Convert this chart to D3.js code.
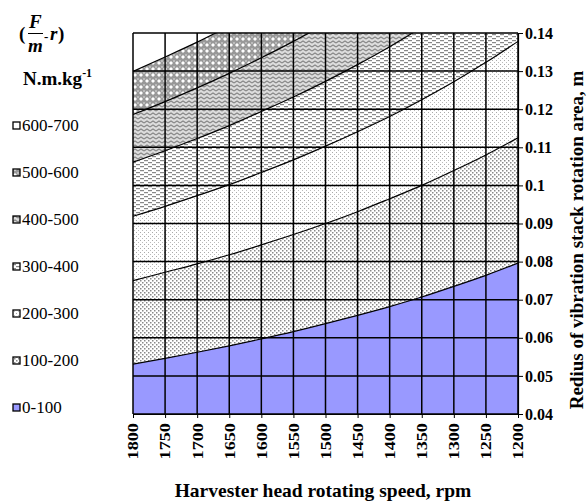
<!DOCTYPE html>
<html lang="en">
<head>
<meta charset="UTF-8">
<title>Contour chart</title>
<script src="https://cdnjs.cloudflare.com/ajax/libs/d3/7.8.5/d3.min.js"></script>
<style>
  body { margin: 0; background: #fff; }
  text { font-family: "Liberation Serif", "Times New Roman", serif; }
</style>
</head>
<body>
<svg id="chart"></svg>
<script>
// speeds at each grid column, rpm
var speeds = [1800, 1750, 1700, 1650, 1600, 1550, 1500, 1450, 1400, 1350, 1300, 1250, 1200]
var rTicks = [0.04, 0.05, 0.06, 0.07, 0.08, 0.09, 0.1, 0.11, 0.12, 0.13, 0.14]

// boundary radius (m) read at every speed column, one list per contour level
var lvl100 = [0.0531, 0.0546, 0.0562, 0.0579, 0.0597, 0.0616, 0.0637, 0.0659, 0.0682, 0.0707, 0.0735, 0.0764, 0.0796]
var lvl200 = [0.0750, 0.0772, 0.0794, 0.0818, 0.0844, 0.0871, 0.0900, 0.0931, 0.0965, 0.1000, 0.1039, 0.1080, 0.1125]
var lvl300 = [0.0919, 0.0945, 0.0973, 0.1002, 0.1034, 0.1067, 0.1103, 0.1141, 0.1181, 0.1225, 0.1272, 0.1323, 0.1378]
var lvl400 = [0.1061, 0.1091, 0.1123, 0.1157, 0.1194, 0.1232, 0.1273, 0.1317, 0.1364, 0.1415, 0.147, 0.153, 0.159]
var lvl500 = [0.1186, 0.1220, 0.1256, 0.1294, 0.1335, 0.1378, 0.1424, 0.147, 0.153, 0.158, 0.164, 0.171, 0.178]
var lvl600 = [0.1299, 0.1337, 0.1376, 0.1418, 0.146, 0.151, 0.156, 0.161, 0.167, 0.173, 0.18, 0.187, 0.195]

var legendLabels = ["600-700", "500-600", "400-500", "300-400", "200-300", "100-200", "0-100"]

var W = 588, H = 501
var svg = d3.select("#chart").attr("width", W).attr("height", H)

var x = d3.scaleLinear().domain([1800, 1200]).range([133, 518])
var y = d3.scaleLinear().domain([0.04, 0.14]).range([414, 33])

// fill patterns
var defs = svg.append("defs")
function pat(id, w, h, bg) {
  var p = defs.append("pattern").attr("id", id).attr("patternUnits", "userSpaceOnUse")
    .attr("width", w).attr("height", h)
  p.append("rect").attr("width", w).attr("height", h).attr("fill", bg)
  return p
}
var p1 = pat("p100", 4, 4, "#fff")
p1.append("rect").attr("x", 0).attr("y", 0).attr("width", 1.5).attr("height", 1.5).attr("fill", "#888")
p1.append("rect").attr("x", 2).attr("y", 2).attr("width", 1.5).attr("height", 1.5).attr("fill", "#888")
var p2 = pat("p200", 4, 4, "#fff")
p2.append("rect").attr("x", 0).attr("y", 0).attr("width", 1).attr("height", 1).attr("fill", "#aaa")
p2.append("rect").attr("x", 2).attr("y", 2).attr("width", 1).attr("height", 1).attr("fill", "#bbb")
var p3 = pat("p300", 8, 4, "#fff")
p3.append("rect").attr("x", 0).attr("y", 0).attr("width", 4).attr("height", 1.2).attr("fill", "#888")
p3.append("rect").attr("x", 4).attr("y", 2).attr("width", 4).attr("height", 1.2).attr("fill", "#888")
var p4 = pat("p400", 6, 4, "#ddd")
p4.append("path").attr("d", "M0,3L3,1L6,3").attr("fill", "none").attr("stroke", "#888").attr("stroke-width", 1.2)
var p5 = pat("p500", 6, 6, "#999")
p5.append("path").attr("d", "M3,1L5,3L3,5L1,3Z").attr("fill", "#fff")
p5.append("path").attr("d", "M0,0L1,1L0,2Z M6,0L5,1L6,2Z").attr("fill", "#ddd")

var fills = ["#fff", "url(#p500)", "url(#p400)", "url(#p300)", "url(#p200)", "url(#p100)", "#9999ff"]
var levels = [lvl600, lvl500, lvl400, lvl300, lvl200, lvl100]

defs.append("clipPath").attr("id", "plotclip").append("rect")
  .attr("x", 133).attr("y", 33).attr("width", 385).attr("height", 381)

var plot = svg.append("g").attr("clip-path", "url(#plotclip)")
plot.append("rect").attr("x", 133).attr("y", 33).attr("width", 385).attr("height", 381).attr("fill", fills[0])

var area = d3.area()
  .x(function(d, i) { return x(speeds[i]) })
  .y0(y(0.04))
  .y1(function(d) { return y(d) })
  .curve(d3.curveMonotoneX)
var line = d3.line()
  .x(function(d, i) { return x(speeds[i]) })
  .y(function(d) { return y(d) })
  .curve(d3.curveMonotoneX)

levels.forEach(function(lv, k) {
  plot.append("path").attr("d", area(lv)).attr("fill", fills[k + 1])
})
levels.forEach(function(lv) {
  plot.append("path").attr("d", line(lv)).attr("fill", "none").attr("stroke", "#000").attr("stroke-width", 1.2)
})

// grid
svg.append("g").selectAll("line.v").data(speeds).enter().append("line")
  .attr("x1", function(d) { return x(d) }).attr("x2", function(d) { return x(d) })
  .attr("y1", 33).attr("y2", 414).attr("stroke", "#000").attr("stroke-width", 1.5)
svg.append("g").selectAll("line.h").data(rTicks).enter().append("line")
  .attr("x1", 133).attr("x2", 518)
  .attr("y1", function(d) { return y(d) }).attr("y2", function(d) { return y(d) })
  .attr("stroke", "#000").attr("stroke-width", 1.5)

// axes
var xAxis = svg.append("g").attr("transform", "translate(0,414)")
  .call(d3.axisBottom(x).tickValues(speeds).tickSize(4).tickSizeOuter(0).tickFormat(d3.format("d")))
xAxis.selectAll("text")
  .attr("transform", "rotate(-90) scale(1.3,1)").attr("text-anchor", "end")
  .attr("x", -7).attr("y", 0).attr("dy", "0.35em")
  .attr("font-size", 14).attr("font-weight", "bold")
  .attr("font-family", "Liberation Serif").attr("fill", "#000")

var yAxis = svg.append("g").attr("transform", "translate(518,0)")
  .call(d3.axisRight(y).tickValues(rTicks).tickSize(5).tickSizeOuter(0).tickFormat(function(d) { return String(+d.toFixed(2)) }))
yAxis.selectAll("text").attr("font-size", 16).attr("font-weight", "bold")
  .attr("font-family", "Liberation Serif").attr("fill", "#000").attr("x", 7)
svg.selectAll(".domain").attr("stroke", "#000").attr("stroke-width", 1.2)
svg.selectAll(".tick line").attr("stroke", "#000")

svg.append("text").attr("x", 323).attr("y", 497).attr("text-anchor", "middle")
  .attr("font-size", 19.5).attr("font-weight", "bold").text("Harvester head rotating speed, rpm")
svg.append("text").attr("transform", "translate(583,240) rotate(-90)").attr("text-anchor", "middle")
  .attr("font-size", 19).attr("font-weight", "bold").text("Redius of vibration stack rotation area, m")

// unit label at top left
var t = svg.append("g").attr("font-weight", "bold").attr("font-size", 19)
t.append("text").attr("x", 19).attr("y", 40).text("(")
t.append("text").attr("x", 29).attr("y", 28).attr("font-style", "italic").text("F")
t.append("line").attr("x1", 28).attr("x2", 43).attr("y1", 33.5).attr("y2", 33.5).attr("stroke", "#000").attr("stroke-width", 1)
t.append("text").attr("x", 28).attr("y", 52).attr("font-style", "italic").text("m")
t.append("text").attr("x", 44).attr("y", 41).attr("font-size", 13).text("-")
t.append("text").attr("x", 50).attr("y", 40).attr("font-style", "italic").text("r")
t.append("text").attr("x", 58).attr("y", 40).text(")")
var u = t.append("text").attr("x", 23).attr("y", 85)
u.append("tspan").text("N.m.kg")
u.append("tspan").attr("dy", -8).attr("font-size", 12).text("-1")

// legend
var leg = svg.append("g").selectAll("g").data(legendLabels).enter().append("g")
  .attr("transform", function(d, i) { return "translate(0," + (125 + i * 47) + ")" })
leg.append("rect").attr("x", 13).attr("y", -3).attr("width", 7).attr("height", 7)
  .attr("fill", function(d, i) { return fills[i] }).attr("stroke", "#000").attr("stroke-width", 1.3)
leg.append("text").attr("x", 22).attr("y", 6).attr("font-size", 17).text(function(d) { return d })
</script>
</body>
</html>
